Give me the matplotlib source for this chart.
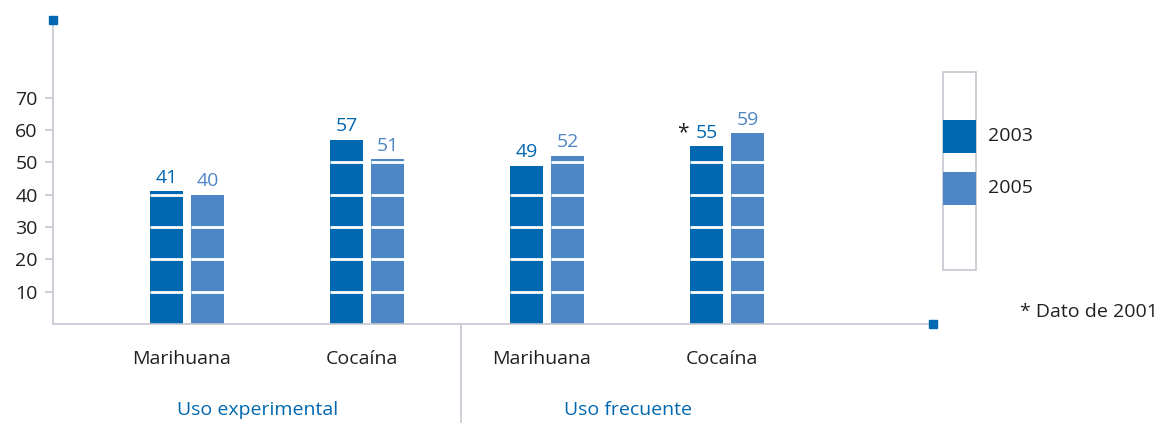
import numpy as np
import matplotlib
matplotlib.use("Agg")
import matplotlib.pyplot as plt
from matplotlib.patches import Rectangle

plt.rcParams['font.family'] = ['Open Sans', 'DejaVu Sans']

categories = ["Marihuana", "Cocaína", "Marihuana", "Cocaína"]
groups = ["Uso experimental", "Uso frecuente"]
years = ["2003", "2005"]
vals_2003 = [41, 57, 49, 55]
vals_2005 = [40, 51, 52, 59]
yticks = [10, 20, 30, 40, 50, 60, 70]
footnote = "* Dato de 2001"

DARK = "#0067b1"
LIGHT = "#4f86c5"
GRID = "#c4c8d0"
TXT = "#231f20"
FS = 14

W, H = 1161, 423
fig = plt.figure(figsize=(W / 100, H / 100), dpi=100)

# axes area in pixel coords: x 53..933, y 20..324
ax = fig.add_axes([53 / W, (H - 324) / H, 880 / W, 304 / H])
ax.set_xlim(-0.744, 4.144)
ax.set_ylim(0, 94)

x = np.arange(len(categories))
bw = 0.183
off = 0.114
for vals, dx, col in [(vals_2003, -off, DARK), (vals_2005, off, LIGHT)]:
    ax.bar(x + dx, vals, width=bw, color=col, zorder=2)
    for xi, v in zip(x + dx, vals):
        # white separators every 10 units
        for k in range(10, int(v), 10):
            if k < v:
                ax.plot([xi - bw / 2, xi + bw / 2], [k, k], color="white", lw=2, zorder=3,
                        solid_capstyle="butt")
        ax.text(xi, v + 2.6, str(v), ha="center", va="baseline", fontsize=FS, color=col)

# asterisk on 2003 cocaine frecuente
ax.text(3 - off - 0.1, vals_2003[3] + 2.6, "*", ha="right", va="baseline", fontsize=FS + 1, color=TXT)

for s in ["top", "right"]:
    ax.spines[s].set_visible(False)
ax.spines["left"].set_color(GRID)
ax.spines["bottom"].set_color(GRID)
ax.spines["left"].set_linewidth(1.2)
ax.spines["bottom"].set_linewidth(1.2)

ax.set_yticks(yticks)
ax.set_yticklabels([str(t) for t in yticks], fontsize=FS, color=TXT)
ax.tick_params(axis="y", length=6, color=GRID, width=1.2, pad=5)
ax.set_xticks(x - 0.03)
ax.set_xticklabels(categories, fontsize=FS, color=TXT)
ax.tick_params(axis="x", length=0, pad=19)

# end markers
ax.plot([-0.744], [94], marker="s", ms=5.5, color=DARK, clip_on=False, zorder=5)
ax.plot([4.144], [0], marker="s", ms=5.5, color=DARK, clip_on=False, zorder=5)

# group labels and divider
fig.text(258 / W, 1 - 410 / H, groups[0], ha="center", va="center", fontsize=FS, color=DARK)
fig.text(628 / W, 1 - 410 / H, groups[1], ha="center", va="center", fontsize=FS, color=DARK)
fig.add_artist(plt.Line2D([461 / W, 461 / W], [0, (H - 324) / H], color=GRID, lw=1.2))

# legend box
lax = fig.add_axes([0, 0, 1, 1], facecolor="none")
lax.set_xlim(0, W)
lax.set_ylim(H, 0)
lax.axis("off")
lax.add_patch(Rectangle((943, 72), 33, 198, facecolor="white", edgecolor=GRID, lw=1.2))
lax.add_patch(Rectangle((943, 120), 33, 33, facecolor=DARK, edgecolor="none"))
lax.add_patch(Rectangle((943, 172), 33, 33, facecolor=LIGHT, edgecolor="none"))
lax.text(988, 136, years[0], ha="left", va="center", fontsize=FS, color=TXT)
lax.text(988, 188, years[1], ha="left", va="center", fontsize=FS, color=TXT)
lax.text(1020, 312, footnote, ha="left", va="center", fontsize=FS, color=TXT)

fig.savefig("out.png", dpi=100)
